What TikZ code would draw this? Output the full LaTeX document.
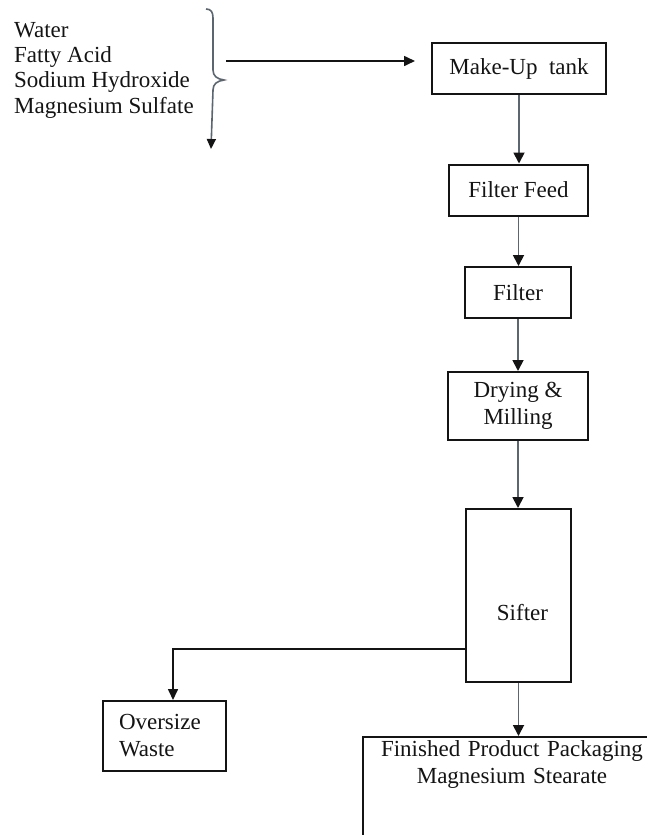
\documentclass[tikz,border=0pt]{standalone}
\usepackage{fontspec}
\setmainfont{Liberation Serif}
\usepackage{tikz}
\usetikzlibrary{shapes,arrows,arrows.meta,positioning,calc}
\definecolor{flowgrey}{RGB}{92,102,112}
\definecolor{inkblack}{RGB}{20,20,20}

\begin{document}
\begin{tikzpicture}[x=1pt,y=-1pt,
  procbox/.style={draw=inkblack, line width=2pt, inner sep=4pt, align=center, text=inkblack,
    font=\fontsize{23}{27}\selectfont},
  flowarrow/.style={draw=flowgrey, line width=1.8pt, -{Triangle[length=11pt,width=11pt,color=inkblack]}},
  feedarrow/.style={draw=inkblack, line width=1.6pt, -{Triangle[length=11pt,width=10pt]}}]
\useasboundingbox (0,0) rectangle (647,835);

% raw materials and the brace
\node[anchor=north west, inner sep=0pt, align=left, text=inkblack,
  font=\fontsize{23}{25.3}\selectfont] (inputs) at (14,22)
  {Water\\Fatty Acid\\Sodium Hydroxide\\Magnesium Sulfate};
\draw[flowgrey, line width=1.6pt, -{Triangle[length=10pt,width=9pt,color=inkblack]}]
  (206,9) .. controls (211,9) and (213,12) .. (213,18) -- (213,70)
  .. controls (213,76) and (217,79) .. (224,80)
  .. controls (217,81) and (213,84) .. (213,90) -- (211,149);
\coordinate (braceTip) at (226,61);
\coordinate (tankIn) at (415,61);

% process line
\node[procbox, minimum width=174pt, minimum height=51pt] (makeup) at (519,68.5) {Make-Up\ \ tank};
\node[procbox, minimum width=139pt, minimum height=51pt] (feed) at (518.5,190) {Filter Feed};
\node[procbox, minimum width=106pt, minimum height=51pt] (filter) at (518,292.5) {Filter};
\node[procbox, minimum width=140pt, minimum height=68pt] (drying) at (518,406) {Drying \&\\Milling};
\node[procbox, minimum width=105pt, minimum height=173pt,
  label={[xshift=4pt, yshift=-17pt, text=inkblack, font=\fontsize{23}{27}\selectfont]center:Sifter}]
  (sifter) at (518.5,595.5) {};
\node[procbox, align=left, text width=91pt, inner xsep=16pt, minimum height=70pt]
  (oversize) at (164.5,736) {Oversize\\Waste};
\begin{scope}
  \clip (0,0) rectangle (647,835);
  \node[procbox, anchor=north, text width=290pt, minimum width=298pt, text depth=90pt]
    (finished) at (512,736) {Finished Product Packaging\\Magnesium Stearate};
\end{scope}

% connectors
\draw[feedarrow] (braceTip) -- (tankIn);
\draw[flowarrow] (makeup.south) -- (makeup.south |- feed.north);
\draw[flowarrow] (feed.south) -- (feed.south |- filter.north);
\draw[flowarrow] (filter.south) -- (filter.south |- drying.north);
\draw[flowarrow] (drying.south) -- (drying.south |- sifter.north);
\draw[flowarrow] (sifter.south) -- (sifter.south |- finished.north);
\draw[feedarrow] ([yshift=34pt]sifter.south west) -| ([xshift=8.5pt]oversize.north);
\end{tikzpicture}
\end{document}
